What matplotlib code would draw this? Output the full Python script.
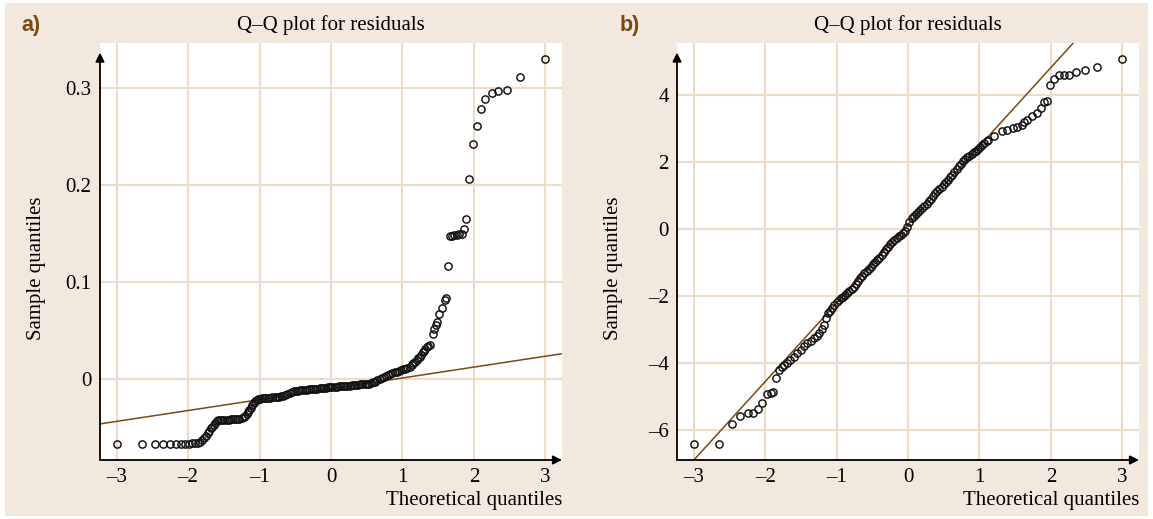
import matplotlib
matplotlib.use("Agg")
import matplotlib.pyplot as plt
from matplotlib.patches import Rectangle
from matplotlib.ticker import FuncFormatter

# panel a) sample vs theoretical quantiles (read off the figure)
qa_x = [-3.00, -2.64, -2.46, -2.35, -2.25, -2.17, -2.10, -2.04, -1.99, -1.94,
        -1.90, -1.86, -1.83, -1.80, -1.77, -1.75, -1.72, -1.70, -1.68, -1.66,
        -1.64, -1.62, -1.60, -1.58, -1.55, -1.52, -1.49, -1.46, -1.43, -1.40,
        -1.37, -1.34, -1.31, -1.28, -1.25, -1.22, -1.20, -1.18, -1.16, -1.14,
        -1.12, -1.10, -1.08, -1.06, -1.04, -1.02, -1.00, -0.97, -0.94, -0.91,
        -0.88, -0.85, -0.82, -0.79, -0.76, -0.73, -0.70, -0.67, -0.64, -0.61,
        -0.58, -0.55, -0.52, -0.49, -0.46, -0.43, -0.40, -0.37, -0.34, -0.31,
        -0.28, -0.25, -0.22, -0.19, -0.16, -0.13, -0.10, -0.07, -0.04, -0.01,
        0.02, 0.05, 0.08, 0.11, 0.14, 0.17, 0.20, 0.23, 0.26, 0.29,
        0.32, 0.35, 0.38, 0.41, 0.44, 0.47, 0.50, 0.53, 0.56, 0.59,
        0.62, 0.65, 0.68, 0.71, 0.74, 0.77, 0.80, 0.83, 0.86, 0.89,
        0.92, 0.95, 0.98, 1.01, 1.04, 1.07, 1.10, 1.13, 1.15, 1.17,
        1.20, 1.22, 1.24, 1.26, 1.29, 1.30, 1.32, 1.34, 1.36, 1.38,
        1.43, 1.44, 1.47, 1.48, 1.51, 1.55, 1.59, 1.61, 1.64, 1.66,
        1.69, 1.72, 1.76, 1.79, 1.83, 1.86, 1.89, 1.93, 1.99, 2.04,
        2.10, 2.16, 2.25, 2.34, 2.46, 2.64, 3.00]
qa_y = [-0.0670, -0.0670, -0.0670, -0.0670, -0.0669, -0.0668, -0.0667, -0.0666, -0.0665, -0.0663,
        -0.0660, -0.0655, -0.0646, -0.0630, -0.0605, -0.0585, -0.0560, -0.0540, -0.0510, -0.0490,
        -0.0470, -0.0450, -0.0435, -0.0425, -0.0422, -0.0421, -0.0420, -0.0419, -0.0418, -0.0417,
        -0.0416, -0.0414, -0.0412, -0.0410, -0.0405, -0.0395, -0.0380, -0.0360, -0.0340, -0.0320,
        -0.0295, -0.0270, -0.0245, -0.0225, -0.0212, -0.0205, -0.0202, -0.0200, -0.0198, -0.0196,
        -0.0194, -0.0192, -0.0190, -0.0188, -0.0185, -0.0182, -0.0178, -0.0172, -0.0165, -0.0155,
        -0.0142, -0.0132, -0.0126, -0.0122, -0.0120, -0.0118, -0.0116, -0.0113, -0.0110, -0.0108,
        -0.0106, -0.0104, -0.0102, -0.0100, -0.0097, -0.0094, -0.0091, -0.0089, -0.0087, -0.0085,
        -0.0083, -0.0081, -0.0079, -0.0077, -0.0075, -0.0073, -0.0071, -0.0069, -0.0067, -0.0065,
        -0.0062, -0.0060, -0.0058, -0.0056, -0.0054, -0.0052, -0.0050, -0.0048, -0.0044, -0.0036,
        -0.0026, -0.0014, 0.0000, 0.0012, 0.0022, 0.0032, 0.0042, 0.0052, 0.0060, 0.0068,
        0.0075, 0.0082, 0.0090, 0.0098, 0.0106, 0.0114, 0.0122, 0.0140, 0.0165, 0.0180,
        0.0200, 0.0215, 0.0227, 0.0250, 0.0280, 0.0290, 0.0310, 0.0330, 0.0340, 0.0350,
        0.0460, 0.0515, 0.0557, 0.0588, 0.0670, 0.0730, 0.0814, 0.0835, 0.1165, 0.1470,
        0.1475, 0.1480, 0.1485, 0.1490, 0.1500, 0.1546, 0.1650, 0.2060, 0.2420, 0.2605,
        0.2780, 0.2890, 0.2950, 0.2970, 0.2980, 0.3110, 0.3296]
line_a = (-0.0101, 0.0112)  # intercept, slope of reference line

# panel b)
qb_x = [-3.00, -2.65, -2.47, -2.35, -2.24, -2.17, -2.10, -2.04, -1.98, -1.92,
        -1.89, -1.85, -1.81, -1.77, -1.73, -1.69, -1.65, -1.60, -1.55, -1.50,
        -1.45, -1.41, -1.36, -1.32, -1.28, -1.25, -1.21, -1.17, -1.15, -1.12,
        -1.09, -1.06, -1.03, -1.00, -0.97, -0.94, -0.91, -0.88, -0.85, -0.82,
        -0.79, -0.76, -0.73, -0.70, -0.67, -0.64, -0.61, -0.58, -0.55, -0.52,
        -0.49, -0.46, -0.43, -0.40, -0.37, -0.34, -0.31, -0.28, -0.25, -0.22,
        -0.19, -0.16, -0.13, -0.10, -0.07, -0.04, -0.01, 0.02, 0.05, 0.08,
        0.11, 0.14, 0.17, 0.20, 0.23, 0.26, 0.29, 0.32, 0.35, 0.38,
        0.41, 0.44, 0.47, 0.50, 0.53, 0.56, 0.59, 0.62, 0.65, 0.68,
        0.71, 0.74, 0.77, 0.80, 0.83, 0.86, 0.89, 0.92, 0.95, 0.98,
        1.01, 1.04, 1.07, 1.10, 1.12, 1.20, 1.31, 1.38, 1.47, 1.53,
        1.59, 1.63, 1.67, 1.73, 1.80, 1.86, 1.90, 1.95, 1.99, 2.04,
        2.11, 2.18, 2.26, 2.35, 2.48, 2.65, 3.00]
qb_y = [-6.42, -6.42, -5.83, -5.57, -5.50, -5.48, -5.38, -5.20, -4.93, -4.89,
        -4.87, -4.46, -4.21, -4.13, -4.07, -4.01, -3.92, -3.81, -3.71, -3.61,
        -3.50, -3.41, -3.33, -3.26, -3.18, -3.11, -3.00, -2.87, -2.67, -2.52,
        -2.44, -2.36, -2.27, -2.19, -2.13, -2.07, -2.02, -1.96, -1.91, -1.85,
        -1.79, -1.72, -1.63, -1.54, -1.46, -1.39, -1.32, -1.26, -1.20, -1.13,
        -1.06, -0.99, -0.93, -0.86, -0.79, -0.70, -0.61, -0.53, -0.45, -0.39,
        -0.33, -0.27, -0.22, -0.17, -0.12, -0.06, 0.05, 0.22, 0.34, 0.40,
        0.46, 0.52, 0.58, 0.63, 0.68, 0.75, 0.83, 0.91, 0.99, 1.07,
        1.14, 1.20, 1.26, 1.33, 1.40, 1.47, 1.54, 1.61, 1.69, 1.78,
        1.87, 1.95, 2.03, 2.09, 2.14, 2.19, 2.24, 2.29, 2.34, 2.39,
        2.44, 2.50, 2.56, 2.62, 2.66, 2.78, 2.93, 2.96, 3.00, 3.05,
        3.10, 3.18, 3.25, 3.37, 3.47, 3.60, 3.80, 3.82, 4.29, 4.49,
        4.61, 4.61, 4.60, 4.70, 4.74, 4.83, 5.08]
line_b = (0.13, 2.343)

xticks = [-3, -2, -1, 0, 1, 2, 3]
yticks_a = [0, 0.1, 0.2, 0.3]
yticks_b = [-6, -4, -2, 0, 2, 4]

BG = '#f3e8de'
GRID = '#ecdcc8'
LINE = '#7b4a12'
LABEL = '#7a4810'

plt.rcParams['font.family'] = ['Liberation Serif', 'DejaVu Serif']

W, H = 1153, 519
fig = plt.figure(figsize=(W / 100, H / 100), dpi=100)
fig.patch.set_facecolor('white')
fig.patches.append(Rectangle((5 / W, 3 / H), (W - 10) / W, (H - 6) / H,
                             transform=fig.transFigure, facecolor=BG,
                             edgecolor='none', zorder=-10))


def fmt(v, pos):
    s = '{:g}'.format(v)
    return s.replace('-', '\u2013')


def panel(rect, xs, ys, line, xlim, ylim, yticks, letter, letter_x):
    ax = fig.add_axes(rect)
    ax.set_facecolor('white')
    ax.set_xlim(*xlim)
    ax.set_ylim(*ylim)
    for s in ax.spines.values():
        s.set_visible(False)
    ax.set_xticks(xticks)
    ax.set_yticks(yticks)
    ax.xaxis.set_major_formatter(FuncFormatter(fmt))
    ax.yaxis.set_major_formatter(FuncFormatter(fmt))
    ax.tick_params(length=0, labelsize=15, pad=6)
    ax.grid(True, color=GRID, lw=1.5)
    ax.set_axisbelow(True)

    lx = list(xlim)
    ax.plot(lx, [line[0] + line[1] * v for v in lx], color=LINE, lw=1.1, zorder=2)
    ax.plot(xs, ys, 'o', ms=5.2, mfc='none', mec='#111111', mew=1.05, zorder=3)

    # axis arrows
    ax.annotate('', xy=(0, 0.977), xytext=(0, 0), xycoords='axes fraction',
                arrowprops=dict(arrowstyle='-|>', lw=1.3, color='black',
                                mutation_scale=13, shrinkA=0, shrinkB=0),
                annotation_clip=False)
    ax.annotate('', xy=(1.0, 0), xytext=(0, 0), xycoords='axes fraction',
                arrowprops=dict(arrowstyle='-|>', lw=1.3, color='black',
                                mutation_scale=13, shrinkA=0, shrinkB=0),
                annotation_clip=False)

    ax.text(0.5, 1.043, 'Q\u2013Q plot for residuals', transform=ax.transAxes,
            ha='center', va='center', fontsize=15)
    ax.text(1.0, -0.096, 'Theoretical quantiles', transform=ax.transAxes,
            ha='right', va='center', fontsize=15)
    ax.text(-0.138, 0.46, 'Sample quantiles', transform=ax.transAxes,
            rotation=90, ha='center', va='center', fontsize=15)
    fig.text(letter_x / W, 1 - 25 / H, letter, ha='left', va='center',
             fontsize=15.5, fontweight='bold', color=LABEL,
             family=['Liberation Sans Narrow', 'Liberation Sans', 'DejaVu Sans'])
    return ax


panel([100 / W, 59 / H, 462 / W, 417 / H], qa_x, qa_y, line_a,
      (-3.231, 3.231), (-0.0835, 0.3464), yticks_a, 'a)', 21)
panel([677 / W, 59 / H, 462 / W, 417 / H], qb_x, qb_y, line_b,
      (-3.235, 3.235), (-6.896, 5.552), yticks_b, 'b)', 620)

fig.savefig('out.png', dpi=100, facecolor=fig.get_facecolor())
